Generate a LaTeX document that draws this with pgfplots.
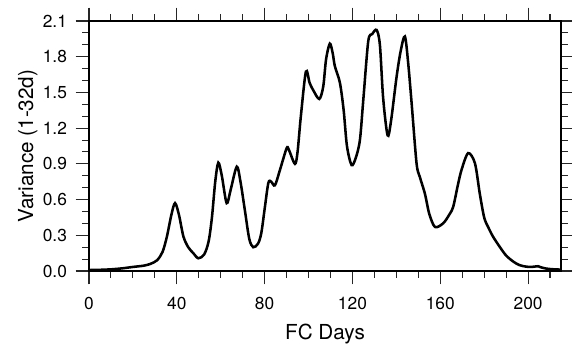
\documentclass[border=0pt]{standalone}
\usepackage{fontspec}
\setmainfont{TeX Gyre Heros}
\usepackage{pgfplots}
\pgfplotsset{compat=1.18}
\begin{document}
\begin{tikzpicture}
\begin{axis}[
  at={(0,0)}, anchor=south west,
  scale only axis,
  width=354pt, height=187.5pt,
  xmin=0, xmax=215, ymin=0, ymax=2.1,
  xtick={0,40,...,200},
  minor xtick={10,20,...,210},
  ytick={0,0.3,...,2.1},
  minor ytick={0.1,0.2,...,2.05},
  yticklabel style={/pgf/number format/fixed, /pgf/number format/fixed zerofill, /pgf/number format/precision=1},
  /pgf/number format/assume math mode=true,
  tick align=outside,
  major tick length=10pt,
  minor tick length=5pt,
  every tick/.style={black!85, line width=0.8pt},
  axis line style={line width=1pt},
  tick label style={font=\fontsize{13}{15}\selectfont},
  xticklabel shift=6pt,
  yticklabel shift=3pt,
  label style={font=\fontsize{15.5}{18}\selectfont},
  xlabel={FC Days},
  ylabel={Variance (1-32d)},
  xlabel style={at={(axis description cs:0.5,-0.276)}, anchor=base},
  ylabel style={at={(axis description cs:-0.1186,0.5)}, anchor=base},
]
\addplot[black, line width=1.9pt, smooth, tension=0.5] coordinates {
(0,0.008) (5,0.01) (10,0.014) (15,0.022) (20,0.034) (25,0.045) (28,0.06) (31,0.09)
(33.5,0.16) (35.5,0.29) (37.5,0.47) (39.2,0.57) (41,0.47) (43,0.29) (45.2,0.20)
(47.5,0.15) (49.8,0.107) (52.5,0.14) (54.5,0.25) (56,0.45) (57.5,0.75) (58.9,0.91)
(60.5,0.80) (62.7,0.57) (64.5,0.68) (67.3,0.876) (69,0.75) (71,0.51) (73,0.27)
(74.8,0.20) (77,0.23) (78.5,0.32) (80,0.52) (81.7,0.74) (83,0.75) (84.7,0.72)
(87,0.85) (90,1.03) (91,1.02) (93.8,0.90) (95,1.0) (96.5,1.3) (98.8,1.675)
(100.5,1.58) (102.1,1.52) (104.9,1.445) (106.7,1.55) (108,1.78) (109.7,1.91)
(111,1.83) (112,1.72) (114.3,1.58) (116,1.35) (117.5,1.05) (119.6,0.89) (121.5,0.95)
(123.4,1.10) (125,1.45) (127.2,1.93) (129,1.99) (131,2.025) (132.5,1.90) (134,1.45)
(136,1.14) (137.5,1.25) (140.1,1.63) (142,1.85) (143.9,1.97) (145.4,1.745) (147,1.4)
(149.2,0.905) (150.7,0.79) (153,0.65) (155,0.48) (157.6,0.37) (161.3,0.40) (164,0.47)
(165.9,0.54) (168,0.72) (169.7,0.85) (172.7,0.99) (175.8,0.905) (178,0.65) (180,0.45)
(181.8,0.37) (184,0.29) (187.2,0.20) (190,0.13) (193.2,0.08) (196,0.05) (199.3,0.036)
(202,0.035) (204.6,0.04) (206,0.03) (208.4,0.02) (211,0.015) (214.5,0.012)
};
\end{axis}
\pgfresetboundingbox
\useasboundingbox (-66.75pt,-55.5pt) rectangle (362.25pt,203.25pt);
\end{tikzpicture}
\end{document}
